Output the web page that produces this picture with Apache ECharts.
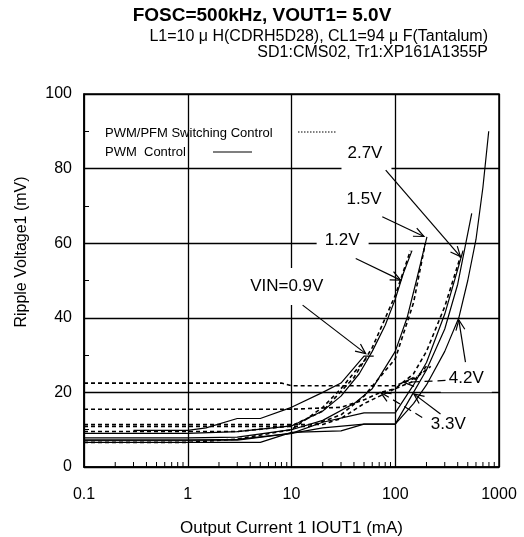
<!DOCTYPE html>
<html>
<head>
<meta charset="utf-8">
<script src="https://cdn.jsdelivr.net/npm/echarts@6/dist/echarts.min.js"></script>
<style>
  html, body { margin: 0; padding: 0; background: #fff; }
  #chart { width: 524px; height: 537px; }
</style>
</head>
<body>
<div id="chart"></div>
<script>
// Curvas: [corriente mA, rizado mV]
var vin09Pwm = [[0.3, 9.8], [1, 9.8], [1.5, 10.5], [3, 13], [5, 13], [10, 16], [20, 20], [30, 22.5], [50, 29.7], [62, 29.7]];
var vin12Pwm = [[0.1, 9.0], [1, 9.0], [3, 9.5], [10, 11], [20, 15], [30, 19], [45, 25], [60, 31], [80, 38], [100, 45], [120, 52], [145, 58]];
var vin15Pwm = [[0.1, 7.8], [1, 7.8], [3, 8], [10, 10], [20, 12.5], [40, 17], [60, 21], [100, 31], [130, 40], [160, 50], [202, 61.7]];
var vin27Pwm = [[0.1, 7.2], [1, 7.2], [3, 7.4], [10, 9], [20, 12], [50, 14.5], [100, 14.5], [150, 22], [200, 28], [300, 41], [400, 53], [450, 58]];
var vin33Pwm = [[0.1, 7.2], [3, 7.2], [10, 9], [20, 10.5], [50, 11.5], [100, 11.5], [150, 20], [200, 26], [300, 37], [400, 49], [546, 68]];
var vin42Pwm = [[0.1, 6.6], [5, 6.6], [10, 9.3], [30, 9.7], [50, 11.5], [100, 11.5], [150, 17], [200, 22], [300, 31], [410, 40], [500, 50], [600, 61], [700, 75], [796, 90]];

var vin09Pfm = [[0.1, 6.6], [1, 6.6], [3, 7.5], [10, 10], [20, 16], [30, 21], [45, 27], [55, 29.7]];
var vin12Pfm = [[0.1, 9.5], [3, 9.5], [10, 11], [20, 15], [40, 24], [60, 32], [100, 46], [140, 58]];
var vin15Pfm = [[0.1, 10.9], [15, 10.9], [30, 14], [50, 19], [100, 29], [150, 44], [195, 60]];
var vin27Pfm = [[0.1, 11.4], [20, 11.4], [30, 13], [50, 17], [100, 21], [150, 25], [200, 31], [300, 43], [425, 56.4]];
var vin33Pfm = [[0.1, 15.5], [10, 15.5], [30, 16], [50, 18], [72, 20], [100, 21], [150, 23], [200, 27]];
var vin42Pfm = [[0.1, 22.5], [8, 22.5], [10, 21.8], [100, 21.8], [121, 22.7], [160, 24], [220, 27]];

// Marcas menores del eje X (escala log)
var xMinorTicks = [0.2, 0.3, 0.4, 0.5, 0.6, 0.7, 0.8, 0.9, 2, 3, 4, 5, 6, 7, 8, 9,
  20, 30, 40, 50, 60, 70, 80, 90, 200, 300, 400, 500, 600, 700, 800, 900];

// Etiquetas de tensión y sus flechas
var annLabels = ['2.7V', '1.5V', '1.2V', 'VIN=0.9V', '4.2V', '3.3V'];
var annLabelPos = [[52.8, 84.0], [50.0, 71.9], [31.1, 60.9], [9.0, 48.4], [484, 23.9], [325, 11.5]];
// [x desde, y desde, x hasta, y hasta, discontinua]
var annArrows = [
  [80.9, 79.6, 425, 56.4, 0],
  [75, 67.1, 189, 61.8, 0],
  [41.6, 55.9, 112.7, 50.1, 0],
  [12.8, 43.4, 51.9, 30.4, 0],
  [475, 28.1, 410, 39.4, 0],
  [305, 23.2, 121, 22.7, 1],
  [273, 14.2, 151, 19.6, 0],
  [182, 13.3, 72.4, 20.0, 1]
];

var FONT = '"Liberation Sans", Arial, sans-serif';

var chart = echarts.init(document.getElementById('chart'));

function pwmSeries(data) {
  return {
    type: 'line', data: data, showSymbol: false, symbol: 'none', z: 2,
    lineStyle: { color: '#000', width: 1.2 }
  };
}
function pfmSeries(data) {
  return {
    type: 'line', data: data, showSymbol: false, symbol: 'none', z: 2,
    lineStyle: { color: '#000', width: 1.6, type: [4, 3] }
  };
}

// relleno blanco de cada etiqueta (la de 2.7V tapa la línea de 80)
var labelPadding = [[6, 9, 18, 6], [6, 8, 6, 8], [6, 9, 6, 8], [12, 8, 8, 8], [6, 8, 6, 8], [6, 8, 6, 8]];

var option = {
  animation: false,
  backgroundColor: '#fff',
  title: [
    {
      text: 'FOSC=500kHz, VOUT1= 5.0V', left: 'center', top: 6, padding: 0,
      textStyle: { fontFamily: FONT, fontSize: 19, fontWeight: 'bold', color: '#000' }
    },
    {
      text: 'L1=10 μ H(CDRH5D28), CL1=94 μ F(Tantalum)', right: 36, top: 29, padding: 0,
      textStyle: { fontFamily: FONT, fontSize: 16, fontWeight: 'normal', color: '#000' }
    },
    {
      text: 'SD1:CMS02, Tr1:XP161A1355P', right: 36, top: 45, padding: 0,
      textStyle: { fontFamily: FONT, fontSize: 16, fontWeight: 'normal', color: '#000' }
    }
  ],
  grid: {
    left: 84, right: 25, top: 94, bottom: 70,
    outerBoundsMode: 'none', containLabel: false,
    show: true, borderColor: '#000', borderWidth: 1.5, backgroundColor: 'transparent'
  },
  xAxis: {
    type: 'log', logBase: 10, min: 0.1, max: 1000,
    name: 'Output Current 1 IOUT1 (mA)', nameLocation: 'middle', nameGap: 53,
    nameTextStyle: { fontFamily: FONT, fontSize: 17, color: '#000' },
    axisLine: { lineStyle: { color: '#000', width: 1.5 } },
    axisTick: { inside: true, length: 5, lineStyle: { color: '#000' } },
    axisLabel: {
      fontFamily: FONT, fontSize: 16, color: '#000', margin: 20,
      formatter: function (v) { return String(v); }
    },
    splitLine: { show: true, lineStyle: { color: '#000', width: 1.3 } }
  },
  yAxis: {
    type: 'value', min: 0, max: 100, interval: 20,
    axisLine: { show: true, lineStyle: { color: '#000', width: 1.5 } },
    axisTick: { show: true, inside: true, length: 5, lineStyle: { color: '#000' } },
    minorTick: { show: true, splitNumber: 2, length: 5, lineStyle: { color: '#000' } },
    axisLabel: { fontFamily: FONT, fontSize: 16, color: '#000', margin: 12 },
    splitLine: { show: true, lineStyle: { color: '#000', width: 1.3 } }
  },
  graphic: [
    {
      type: 'text', x: 22, y: 252, rotation: Math.PI / 2,
      style: { text: 'Ripple Voltage1 (mV)', font: '16px ' + FONT, fill: '#000', align: 'center', verticalAlign: 'middle' }
    },
    {
      type: 'group', z: 5,
      children: [
        { type: 'rect', shape: { x: 88, y: 122, width: 252, height: 44 }, style: { fill: '#fff' } },
        { type: 'text', x: 105, y: 133, style: { text: 'PWM/PFM Switching Control', font: '13px ' + FONT, fill: '#000', verticalAlign: 'middle' } },
        { type: 'line', shape: { x1: 298, y1: 132, x2: 337, y2: 132 }, style: { stroke: '#000', lineWidth: 1.2, lineDash: [1.5, 1.5] } },
        { type: 'text', x: 105, y: 152, style: { text: 'PWM  Control', font: '13px ' + FONT, fill: '#000', verticalAlign: 'middle' } },
        { type: 'line', shape: { x1: 213, y1: 152, x2: 252, y2: 152 }, style: { stroke: '#000', lineWidth: 1.2 } }
      ]
    }
  ],
  series: [
    pwmSeries(vin09Pwm), pwmSeries(vin12Pwm), pwmSeries(vin15Pwm),
    pwmSeries(vin27Pwm), pwmSeries(vin33Pwm), pwmSeries(vin42Pwm),
    pfmSeries(vin09Pfm), pfmSeries(vin12Pfm), pfmSeries(vin15Pfm),
    pfmSeries(vin27Pfm), pfmSeries(vin33Pfm), pfmSeries(vin42Pfm),
    {
      // marcas menores del eje X
      type: 'custom', z: 3, silent: true,
      data: xMinorTicks.map(function (v) { return [v, 0]; }),
      renderItem: function (params, api) {
        var p = api.coord([api.value(0), 0]);
        return { type: 'line', shape: { x1: p[0], y1: p[1], x2: p[0], y2: p[1] - 5 }, style: { stroke: '#000', lineWidth: 1 } };
      }
    },
    {
      // etiquetas con fondo blanco
      type: 'custom', z: 3, silent: true,
      data: annLabelPos,
      renderItem: function (params, api) {
        var p = api.coord([api.value(0), api.value(1)]);
        return {
          type: 'text', x: p[0], y: p[1], z2: 10,
          style: {
            text: annLabels[params.dataIndex], font: '17px ' + FONT, fill: '#000',
            align: 'center', verticalAlign: 'middle', backgroundColor: '#fff',
            padding: labelPadding[params.dataIndex]
          }
        };
      }
    },
    {
      // flechas
      type: 'custom', z: 4, silent: true,
      data: annArrows,
      renderItem: function (params, api) {
        var p1 = api.coord([api.value(0), api.value(1)]);
        var p2 = api.coord([api.value(2), api.value(3)]);
        var dashed = api.value(4) === 1;
        var ang = Math.atan2(p2[1] - p1[1], p2[0] - p1[0]);
        var L = 11, a = 0.42;
        var h1 = [p2[0] - L * Math.cos(ang - a), p2[1] - L * Math.sin(ang - a)];
        var h2 = [p2[0] - L * Math.cos(ang + a), p2[1] - L * Math.sin(ang + a)];
        return {
          type: 'group',
          children: [
            { type: 'line', shape: { x1: p1[0], y1: p1[1], x2: p2[0], y2: p2[1] }, style: { stroke: '#000', lineWidth: 1.2, lineDash: dashed ? [8, 5] : null } },
            { type: 'polyline', shape: { points: [h1, p2, h2] }, style: { stroke: '#000', lineWidth: 1.2, fill: null } }
          ]
        };
      }
    }
  ]
};

chart.setOption(option);
</script>
</body>
</html>
